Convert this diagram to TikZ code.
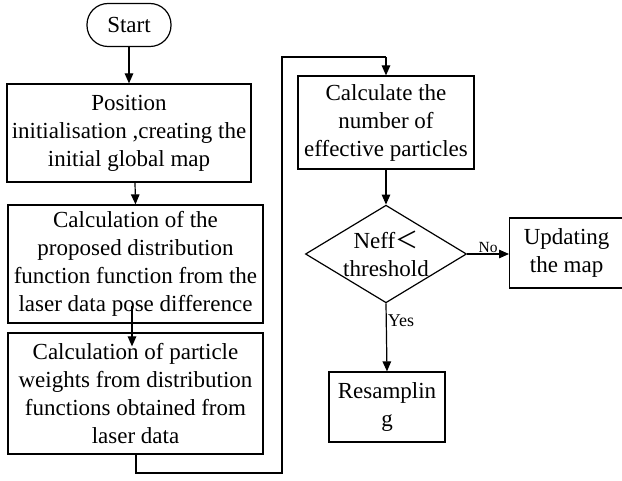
\documentclass[tikz,border=0pt]{standalone}
\usepackage{fontspec}
\setmainfont{Liberation Serif}
\newfontfamily\cjk{Noto Sans CJK SC}
\usetikzlibrary{arrows.meta,shapes.geometric}
\begin{document}
\begin{tikzpicture}[x=1pt,y=-1pt,
  box/.style={draw,line width=1.2pt,inner sep=0pt,align=center,font=\fontsize{23}{28}\selectfont},
  arr/.style={line width=1.2pt,-{Triangle[length=10pt,width=8.5pt]}},
  ln/.style={line width=1.2pt},
  lbl/.style={font=\fontsize{15.5}{17}\selectfont,inner sep=1pt}]
\clip (0,0) rectangle (622,481);
\fill[white] (0,0) rectangle (622,481);
\node[box,rounded corners=21pt,minimum width=84pt,minimum height=43pt] (s) at (129,25) {Start};
\node[box,minimum width=244pt,minimum height=98pt] (b1) at (129,133) {Position\\initialisation ,creating the\\initial global map};
\node[box,minimum width=255pt,minimum height=118pt] (b2) at (135.5,264) {Calculation of the\\proposed distribution\\function function from the\\laser data pose difference};
\node[box,minimum width=255pt,minimum height=121pt] (b3) at (135.5,393.5) {Calculation of particle\\weights from distribution\\functions obtained from\\laser data};
\node[box,minimum width=176pt,minimum height=93pt] (b4) at (386,122.5) {Calculate the\\number of\\effective particles};
\node[draw,line width=1.2pt,diamond,aspect=1.65,minimum width=160pt,minimum height=97pt,inner sep=0pt,align=center,font=\fontsize{23}{28}\selectfont] (d) at (386,254) {Neff{\cjk ＜}\\threshold};
\node[box,minimum width=114pt,minimum height=70pt,anchor=west] (b5) at (509,253) {Updating\\the map};
\node[box,minimum width=116pt,minimum height=70pt] (b6) at (387,407) {Resamplin\\g};
\coordinate (c1) at (136,473);
\coordinate (c2) at (282,473);
\coordinate (c3) at (282,57);
\coordinate (c4) at (386,57);
\draw[arr] (s.south) -- (b1.north -| s.south);
\draw[arr] ([xshift=6pt]b1.south) -- ([xshift=0pt]b2.north);
\draw[arr] ([xshift=-3.5pt,yshift=18pt]b2.south) -- ([xshift=-3.5pt,yshift=-14pt]b3.north);
\draw[ln] (b3.south -| c1) -- (c1) -- (c2) -- (c3) -- (c4);
\draw[arr] (c4) -- (b4.north);
\draw[arr] (b4.south) -- (d.north);
\draw[arr] (d.east) -- node[lbl,above] {No} (d.east -| b5.west);
\draw[arr] (d.south) -- node[lbl,right,pos=0.25,font=\fontsize{18}{20}\selectfont] {Yes} (b6.north);
\end{tikzpicture}
\end{document}
